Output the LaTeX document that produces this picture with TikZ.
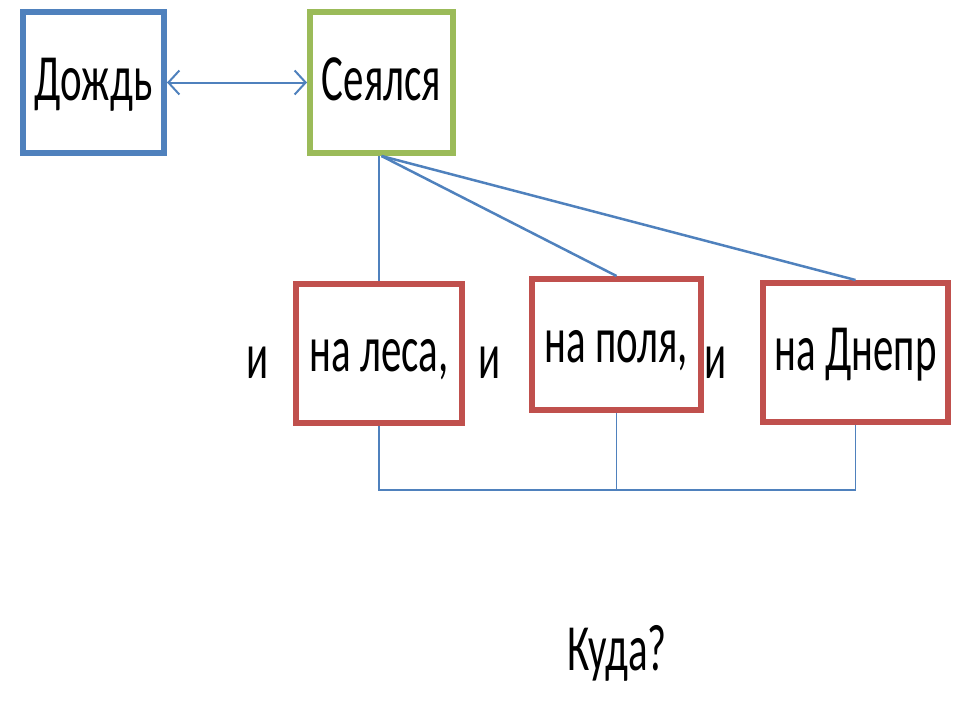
\documentclass[tikz,border=0pt]{standalone}
\usepackage{fontspec}
\setmainfont{Carlito}
\newfontfamily\cnd[FakeStretch=0.62]{Carlito}
\usepackage{tikz}
\usetikzlibrary{arrows.meta,positioning,calc}
\definecolor{cBlu}{RGB}{79,129,189}
\definecolor{cGrn}{RGB}{155,187,89}
\definecolor{cRed}{RGB}{192,80,77}
\begin{document}
\begin{tikzpicture}[x=1pt, y=-1pt,
  box/.style={draw, line width=6pt, font=\cnd\fontsize{66}{70}\selectfont,
              text height=44pt, text depth=8pt, inner sep=0pt},
  word/.style={font=\cnd\fontsize{66}{70}\selectfont, inner sep=0pt,
               text height=44pt, text depth=8pt},
  link/.style={cBlu, line width=1.5pt},
  arr/.style={cBlu, line width=2pt, {Straight Barb[length=11pt,width=24pt]}-{Straight Barb[length=11pt,width=24pt]}}]
\useasboundingbox (0,0) rectangle (960,720);
\node[box, draw=cBlu, minimum width=141, minimum height=141] (dozhd) at (93.5,82.5) {Дождь};
\node[box, draw=cGrn, minimum width=143, minimum height=141] (seyal) at (381.5,82.5) {Сеялся};
\node[box, draw=cRed, minimum width=166, minimum height=139] (lesa) at (379,353.5) {на леса,};
\node[box, draw=cRed, minimum width=169, minimum height=131] (polya) at (616.5,344.5) {на поля,};
\node[box, draw=cRed, minimum width=185, minimum height=139] (dnepr) at (855.5,352.5) {на Днепр};
\node[word] (i1) at (258,360) {и};
\node[word] (i2) at (490,360) {и};
\node[word] (i3) at (716,360) {и};
\node[word] (kuda) at (617,652) {Куда?};
\coordinate (br) at (615,490);
% arrows and links
\draw[arr] (dozhd) -- (seyal);
\draw[link] (lesa.north |- seyal.south) -- (lesa.north);
\draw[link, line width=2.5pt] (seyal.south) -- (polya.north);
\draw[link, line width=2.5pt] (seyal.south) -- (dnepr.north);
\draw[link] (lesa.south) |- (br) -| (dnepr.south);
\draw[link] (polya.south) -- (polya.south |- br);
\end{tikzpicture}
\end{document}
